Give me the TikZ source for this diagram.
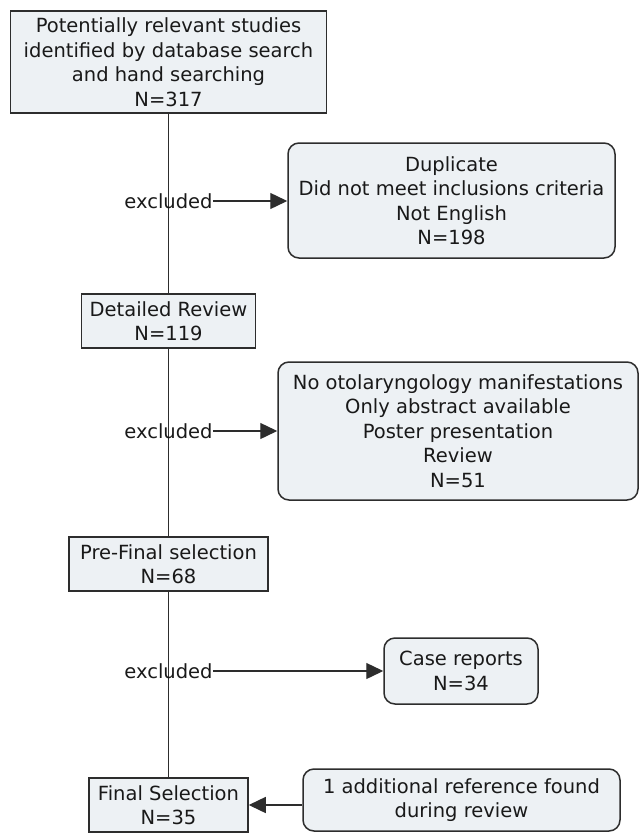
\documentclass[tikz,border=0pt]{standalone}
\usepackage{fontspec}
\setmainfont{DejaVu Sans}
\usetikzlibrary{arrows.meta,backgrounds}
\definecolor{boxfill}{RGB}{237,241,244}
\definecolor{edge}{RGB}{45,45,45}
\definecolor{txt}{RGB}{25,25,25}
\tikzset{
  sqbox/.style={draw=edge, line width=1.5bp, fill=boxfill, inner sep=0pt, align=center, text=txt,
    font=\fontsize{19.5bp}{24.5bp}\selectfont},
  rdbox/.style={sqbox, rounded corners=11bp},
  exlabel/.style={inner sep=0pt, text=txt, font=\fontsize{19.5bp}{24.5bp}\selectfont},
  conn/.style={draw=edge, line width=1.4bp},
  arr/.style={conn, -{Triangle[length=17bp,width=16bp]}}
}
\begin{document}
\begin{tikzpicture}[x=1bp,y=-1bp]
\useasboundingbox (0,0) rectangle (640,837);
\node[sqbox, minimum width=316bp, minimum height=102bp] (b1) at (168.5,62)
  {Potentially relevant studies\\identified by database search\\and hand searching\\N=317};
\node[sqbox, minimum width=174bp, minimum height=54bp] (b3) at (168.5,321)
  {Detailed Review\\N=119};
\node[sqbox, minimum width=199bp, minimum height=54bp] (b5) at (168.5,564)
  {Pre-Final selection\\N=68};
\node[sqbox, minimum width=159bp, minimum height=54bp] (b7) at (168.5,805)
  {Final Selection\\N=35};

\node[rdbox, minimum width=327bp, minimum height=115bp] (b2) at (451.5,200.5)
  {Duplicate\\Did not meet inclusions criteria\\Not English\\N=198};
\node[rdbox, minimum width=360bp, minimum height=138bp] (b4) at (458,431)
  {No otolaryngology manifestations\\Only abstract available\\Poster presentation\\Review\\N=51};
\node[rdbox, minimum width=154bp, minimum height=66bp] (b6) at (461,671)
  {Case reports\\N=34};
\node[rdbox, minimum width=317bp, minimum height=62bp] (b8) at (461.5,800)
  {1 additional reference found\\during review};

\node[exlabel] (e1) at (168.5,201) {excluded};
\node[exlabel] (e2) at (168.5,431) {excluded};
\node[exlabel] (e3) at (168.5,671) {excluded};

\begin{scope}[on background layer]
\draw[conn] (b1.south) -- (b3.north);
\draw[conn] (b3.south) -- (b5.north);
\draw[conn] (b5.south) -- (b7.north);
\end{scope}

\draw[arr] (e1.east) -- (e1.east -| b2.west);
\draw[arr] (e2.east) -- (e2.east -| b4.west);
\draw[arr] (e3.east) -- (e3.east -| b6.west);
\draw[arr] (b8.west |- b7.east) -- (b7.east);
\end{tikzpicture}
\end{document}
